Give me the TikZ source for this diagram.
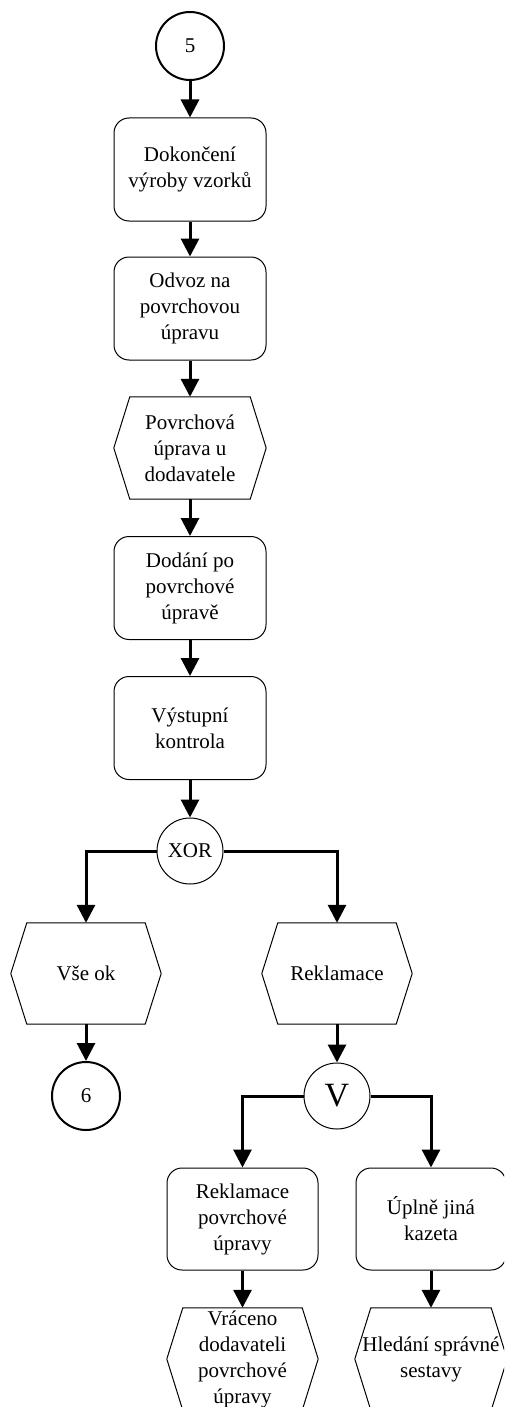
\documentclass[tikz,border=0pt]{standalone}
\usepackage{fontspec}
\setmainfont{Liberation Serif}
\usetikzlibrary{arrows.meta}

\tikzset{
  every node/.style={font=\fontsize{21}{26}\selectfont, align=center, inner sep=0pt},
  stepbox/.style={draw, line width=1pt, rounded corners=15pt, minimum width=152pt, minimum height=103pt},
  eventbox/.style={minimum width=152pt, minimum height=102pt},
  hexframe/.style={draw, line width=1pt},
  connector/.style={circle, draw, line width=2pt, minimum size=68pt},
  gate/.style={circle, draw, line width=1pt, minimum size=66pt},
  flow/.style={line width=3pt, -{Triangle[width=18pt,length=18pt]}},
  split/.style={line width=3pt}
}

% six-sided event frame drawn round a named node
\newcommand{\hexaround}[1]{%
  \draw[hexframe] (#1.west) -- ([xshift=16pt]#1.north west) -- ([xshift=-16pt]#1.north east)
    -- (#1.east) -- ([xshift=-16pt]#1.south east) -- ([xshift=16pt]#1.south west) -- cycle;}

\begin{document}
\begin{tikzpicture}[x=1pt, y=-1pt]
  \useasboundingbox (0,0) rectangle (504,1407);
  \clip (0,0) rectangle (504,1407);

  % main column
  \node[connector] (c5) at (190,46) {5};
  \node[stepbox] (b1) at (190,169.5) {Dokončení\\výroby vzorků};
  \node[stepbox] (b2) at (190,308.5) {Odvoz na\\povrchovou\\úpravu};
  \node[eventbox] (h1) at (190,448) {Povrchová\\úprava u\\dodavatele};
  \hexaround{h1}
  \node[stepbox] (b3) at (190,588) {Dodání po\\povrchové\\úpravě};
  \node[stepbox] (b4) at (190,728) {Výstupní\\kontrola};
  \node[gate] (xor) at (190,851) {XOR};

  % XOR branches
  \node[eventbox, minimum width=150pt, minimum height=101pt] (h2) at (86,973.5) {Vše ok};
  \hexaround{h2}
  \node[eventbox, minimum width=150pt, minimum height=101pt] (h3) at (337,973.5) {Reklamace};
  \hexaround{h3}
  \node[connector] (c6) at (86,1096) {6};
  \node[gate, font=\fontsize{34}{34}\selectfont] (v) at (337,1096) {V};

  % V branches
  \node[stepbox, minimum width=151pt, minimum height=102pt] (b5) at (242.5,1219) {Reklamace\\povrchové\\úpravy};
  \node[stepbox, minimum width=150pt, minimum height=102pt] (b6) at (431,1219) {Úplně jiná\\kazeta};
  \node[eventbox, minimum width=151pt] (h4) at (242.5,1359) {Vráceno\\dodavateli\\povrchové\\úpravy};
  \hexaround{h4}
  \node[eventbox] (h5) at (431,1359) {Hledání správné\\sestavy};
  \hexaround{h5}

  % connectors
  \draw[flow] (c5) -- (b1);
  \draw[flow] (b1) -- (b2);
  \draw[flow] (b2) -- (h1);
  \draw[flow] (h1) -- (b3);
  \draw[flow] (b3) -- (b4);
  \draw[flow] (b4) -- (xor);
  \draw[flow] (xor.west) -| (h2.north);
  \draw[flow] (xor.east) -| (h3.north);
  \draw[flow] (h2) -- (c6);
  \draw[flow] (h3.south) -- (v.north);
  \draw[flow] (v.west) -| (b5.north);
  \draw[flow] (v.east) -| (b6.north);
  \draw[flow] (b5) -- (h4);
  \draw[flow] (b6) -- (h5);
\end{tikzpicture}
\end{document}
